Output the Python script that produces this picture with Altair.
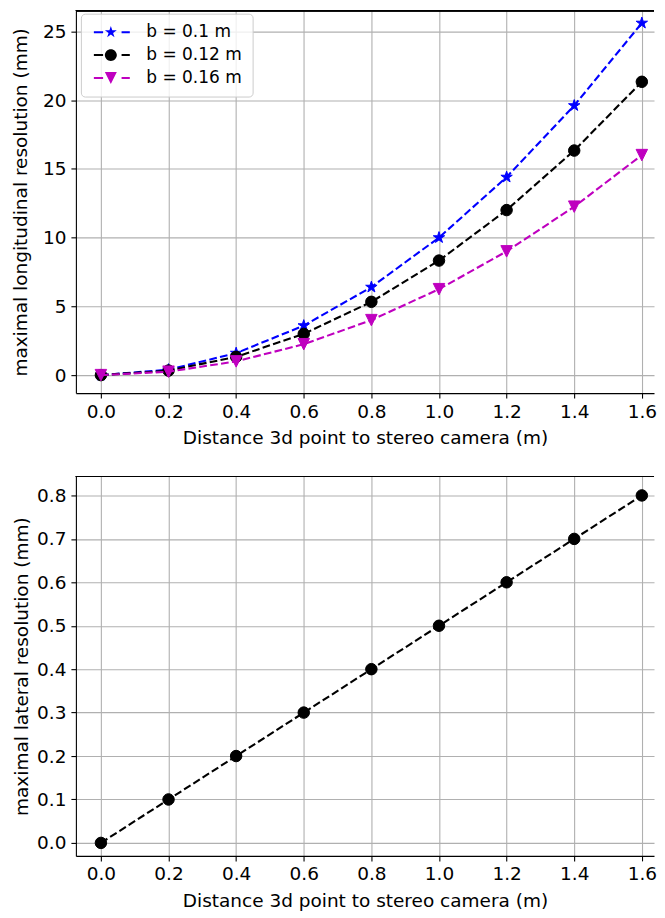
import math
import altair as alt
import pandas as pd

# ---------------- data ----------------
distance = [0.0, 0.2, 0.4, 0.6, 0.8, 1.0, 1.2, 1.4, 1.6]
series_labels = ["b = 0.1 m", "b = 0.12 m", "b = 0.16 m"]
long_b010 = [0.0, 0.4, 1.6, 3.6, 6.4, 10.0, 14.4, 19.6, 25.6]
long_b012 = [0.0, 0.33, 1.33, 3.0, 5.33, 8.33, 12.0, 16.33, 21.33]
long_b016 = [0.0, 0.25, 1.0, 2.25, 4.0, 6.25, 9.0, 12.25, 16.0]
lateral = [0.0, 0.1, 0.2, 0.3, 0.4, 0.5, 0.6, 0.7, 0.8]

x_ticks = [0.0, 0.2, 0.4, 0.6, 0.8, 1.0, 1.2, 1.4, 1.6]
top_y_ticks = [0, 5, 10, 15, 20, 25]
bottom_y_ticks = [0.0, 0.1, 0.2, 0.3, 0.4, 0.5, 0.6, 0.7, 0.8]

colors = ["#0000ff", "#000000", "#bf00bf"]

# ---------------- tables ----------------
rows = []
for lab, vals in zip(series_labels, [long_b010, long_b012, long_b016]):
    for d, v in zip(distance, vals):
        rows.append({"distance": d, "value": v, "series": lab})
df_long = pd.DataFrame(rows)
df_lat = pd.DataFrame({"distance": distance, "value": lateral})

# ---------------- marker shapes (unit = sqrt(size)/2) ----------------
def star_path(R, r):
    pts = []
    for k in range(10):
        ang = math.radians(-90 + 36 * k)
        rad = R if k % 2 == 0 else r
        pts.append(f"{rad * math.cos(ang):.3f},{rad * math.sin(ang):.3f}")
    return "M" + "L".join(pts) + "Z"

def circle_path(r):
    return f"M{r},0A{r},{r},0,1,1,{-r},0A{r},{r},0,1,1,{r},0Z"

def tri_down_path(h):
    return f"M{-h},{-h}L{h},{-h}L0,{h}Z"

marker_paths = [star_path(1.2, 0.46), circle_path(1.15), tri_down_path(1.15)]
legend_marker_paths = [star_path(1.25, 0.48), circle_path(1.2), tri_down_path(1.2)]
# two short dashes (thin filled bars) either side of the marker, as in a line+marker legend handle
dash_part = "M-3.4,-0.2H-1.55V0.2H-3.4ZM2.15,-0.2H3.8V0.2H2.15Z"
legend_paths = [dash_part + p for p in legend_marker_paths]

FS = 18.5

legend = alt.Legend(
    title=None,
    orient="none",
    legendX=5,
    legendY=3,
    direction="vertical",
    fillColor="rgba(255,255,255,0.8)",
    strokeColor="#cccccc",
    cornerRadius=4,
    padding=10,
    labelFont="DejaVu Sans",
    labelFontSize=17,
    labelColor="black",
    symbolSize=100,
    symbolOffset=11.5,
    symbolOpacity=1,
    symbolStrokeWidth=0,
    labelOffset=27,
    rowPadding=5,
)

x_enc = alt.X(
    "distance:Q",
    scale=alt.Scale(domain=[-0.074, 1.636], nice=False, zero=False),
    axis=alt.Axis(values=x_ticks, format=".1f", title="Distance 3d point to stereo camera (m)"),
)

# spine along the top edge of a panel (the right edge lies outside the picture)
top_spine = alt.Chart(df_lat).mark_rule(color="black", strokeWidth=1.1).encode(y=alt.value(0))

# ---------------- top panel ----------------
y_top = alt.Y(
    "value:Q",
    scale=alt.Scale(domain=[-1.307, 26.5], nice=False, zero=False),
    axis=alt.Axis(
        values=top_y_ticks, format="d", title="maximal longitudinal resolution (mm)", titlePadding=12.4
    ),
)

base = alt.Chart(df_long)
layers = []
for lab, col, mpath in zip(series_labels, colors, marker_paths):
    sub = base.transform_filter(alt.datum.series == lab)
    layers.append(
        sub.mark_line(color=col, strokeDash=[7.7, 3.3], strokeWidth=2.1).encode(x=x_enc, y=y_top)
    )
    layers.append(
        sub.mark_point(
            filled=True, size=100, opacity=1, color=col, stroke=col, strokeWidth=1, shape=mpath
        ).encode(x=x_enc, y=y_top)
    )

# legend-only layer (no rows pass the filter; the legend comes from the explicit domains)
legend_layer = base.transform_filter(alt.datum.series == "__none__").mark_point(
    filled=True, size=100, opacity=1
).encode(
    x=x_enc,
    y=y_top,
    color=alt.Color("series:N", scale=alt.Scale(domain=series_labels, range=colors), legend=legend),
    shape=alt.Shape("series:N", scale=alt.Scale(domain=series_labels, range=legend_paths), legend=legend),
)
layers.append(legend_layer)
layers.append(top_spine)
top = alt.layer(*layers).properties(width=579, height=383)

# ---------------- bottom panel ----------------
y_bot = alt.Y(
    "value:Q",
    scale=alt.Scale(domain=[-0.0299, 0.8437], nice=False, zero=False),
    axis=alt.Axis(
        values=bottom_y_ticks, format=".1f", title="maximal lateral resolution (mm)", titlePadding=5.5
    ),
)
bbase = alt.Chart(df_lat)
bottom = alt.layer(
    bbase.mark_line(color="black", strokeDash=[7.7, 3.3], strokeWidth=2.1).encode(x=x_enc, y=y_bot),
    bbase.mark_point(
        filled=True, size=100, opacity=1, color="black", stroke="black", strokeWidth=1,
        shape=marker_paths[1],
    ).encode(x=x_enc, y=y_bot),
    top_spine,
).properties(width=579, height=380)

chart = (
    alt.vconcat(top, bottom, spacing=28.5)
    .properties(padding={"left": 3, "top": 1, "right": 0, "bottom": 0})
    .configure(font="DejaVu Sans")
    .configure_view(stroke=None)
    .configure_axis(
        domain=True,
        domainColor="black",
        domainWidth=1.1,
        grid=True,
        gridColor="#b0b0b0",
        gridWidth=1.1,
        tickColor="black",
        tickSize=5,
        tickWidth=1.1,
        labelFont="DejaVu Sans",
        labelFontSize=FS,
        labelColor="black",
        labelPadding=5,
        titleFont="DejaVu Sans",
        titleFontSize=FS,
        titleFontWeight="normal",
        titleColor="black",
    )
    .configure_axisX(labelPadding=4, titlePadding=8)
)

chart.save("out.html", embed_options={"renderer": "svg", "actions": False})
